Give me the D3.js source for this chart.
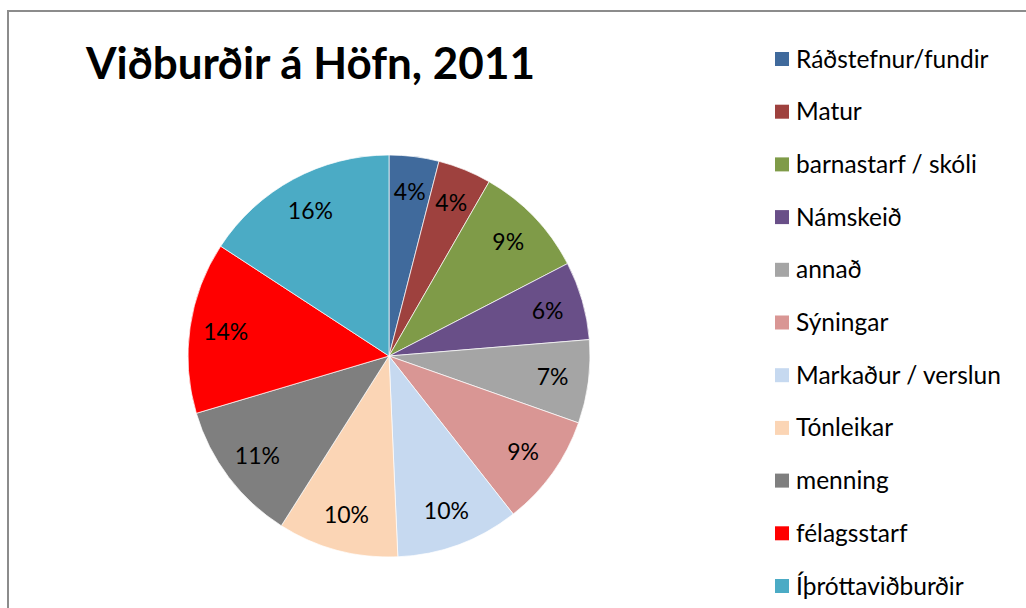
<html>
<head>
<script src="https://d3js.org/d3.v7.min.js"></script>
<style>
  body { margin: 0; background: #fff; }
  svg text { font-family: Lato, "Open Sans", sans-serif; fill: #000; }
</style>
</head>
<body>
<svg id="chart" width="1026" height="608"></svg>
<script>
// share of events per category (percent)
var categories = ["Ráðstefnur/fundir", "Matur", "barnastarf / skóli", "Námskeið", "annað",
  "Sýningar", "Markaður / verslun", "Tónleikar", "menning", "félagsstarf", "Íþróttaviðburðir"];
var values = [4.0, 4.3, 9.1, 6.3, 6.7, 9.0, 9.9, 9.7, 11.4, 13.8, 15.8];
var colors = ["#406a9c", "#9e413e", "#7f9b48", "#694f88", "#a5a5a5", "#d99694",
  "#c6d9f0", "#fbd5b5", "#7f7f7f", "#ff0000", "#4babc5"];
var title = "Viðburðir á Höfn, 2011";

var svg = d3.select("#chart");

// chart frame
svg.append("rect")
  .attr("x", 8).attr("y", 11)
  .attr("width", 1030).attr("height", 620)
  .attr("fill", "none").attr("stroke", "#8c8c8c").attr("stroke-width", 2);

svg.append("text")
  .attr("x", 86).attr("y", 79)
  .attr("font-size", 44).attr("font-weight", "bold")
  .text(title);

var cx = 389, cy = 356, r = 201;
var total = d3.sum(values);
var pie = d3.pie().sort(null).value(function(d) { return d; });
var arc = d3.arc().innerRadius(0).outerRadius(r);
var labelArc = d3.arc().innerRadius(165).outerRadius(165);

var g = svg.append("g").attr("transform", "translate(" + cx + "," + cy + ")");
var slices = g.selectAll("g.slice")
  .data(pie(values))
  .enter().append("g").attr("class", "slice");

slices.append("path")
  .attr("d", arc)
  .attr("fill", function(d, i) { return colors[i]; })
  .attr("stroke", "#fff").attr("stroke-width", 0.7);

slices.append("text")
  .attr("transform", function(d) { return "translate(" + labelArc.centroid(d) + ")"; })
  .attr("text-anchor", "middle")
  .attr("dy", "0.35em")
  .attr("font-size", 23)
  .text(function(d) { return Math.round(d.value / total * 100) + "%"; });

// legend
var legend = svg.append("g").selectAll("g")
  .data(categories)
  .enter().append("g")
  .attr("transform", function(d, i) { return "translate(775," + (59 + i * 52.7) + ")"; });

legend.append("rect")
  .attr("x", 0).attr("y", -7)
  .attr("width", 14).attr("height", 14)
  .attr("fill", function(d, i) { return colors[i]; });

legend.append("text")
  .attr("x", 21).attr("dy", "0.35em")
  .attr("font-size", 24.5)
  .text(function(d) { return d; });
</script>
</body>
</html>
